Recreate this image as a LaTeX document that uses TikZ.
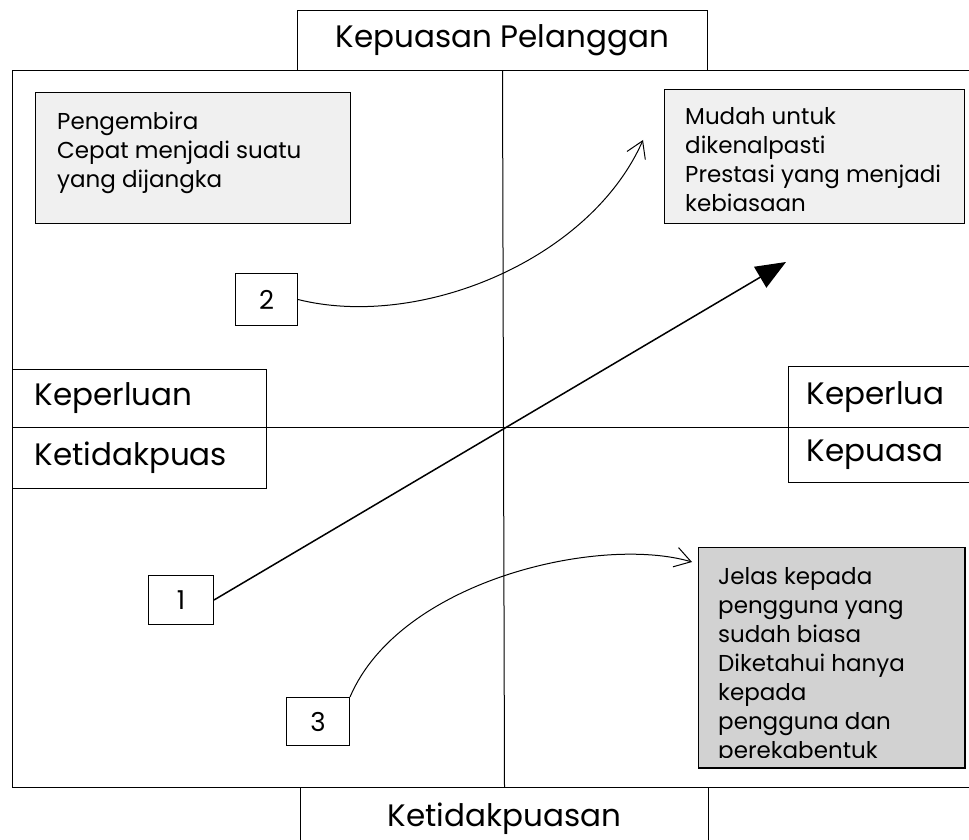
\documentclass[tikz,border=0pt]{standalone}
\usepackage{fontspec}
\setmainfont{Poppins}
\usetikzlibrary{arrows.meta}
\newcommand{\judul}{\fontsize{31}{34}\selectfont}
\newcommand{\isi}{\fontsize{23}{29}\selectfont}
\newcommand{\angka}{\fontsize{26}{30}\selectfont}
\tikzset{
        kotak/.style={draw, line width=1pt, inner sep=0pt, anchor=north west, fill=white},
        sisi/.style={kotak, align=left, font=\judul},
        catatan/.style={kotak, fill=gray!12},
        isian/.style={anchor=north west, inner sep=0pt, align=left, font=\isi},
        nombor/.style={kotak, font=\angka},
        garis/.style={line width=1pt},
        lengkung/.style={line width=1pt, -{Straight Barb[length=16pt,width=20pt]}}
}

\begin{document}
\begin{tikzpicture}[x=1pt,y=-1pt]
        \useasboundingbox (0,0) rectangle (969,840);
        \draw[garis] (990,71) -| (12,787) -- (990,787);
        \node[kotak, minimum width=410, minimum height=60, font=\judul] (puas) at (297,10) {Kepuasan Pelanggan};
        \node[kotak, minimum width=408, minimum height=62, font=\judul] (tidak) at (300,787) {Ketidakpuasan};
        \node[sisi, minimum height=58, text width=210, inner xsep=22] (perlu) at (12,369) {Keperluan};
        \node[sisi, minimum height=61, text width=210, inner xsep=22] (tidakpuas) at (12,427) {Ketidakpuas};
        \node[sisi, minimum height=61, text width=200, inner xsep=18] (perlukanan) at (788,366) {Keperlua};
        \node[sisi, minimum height=55, text width=200, inner xsep=18] (puaskanan) at (788,427) {Kepuasa};
        \draw[garis] (puas.south) -- (tidak.north);
        \draw[garis] (tidakpuas.north west) -- (puaskanan.north east);
        \node[catatan, minimum width=315, minimum height=131] (gembira) at (35,92) {};
        \node[isian] (gembiraisi) at (57,112) {Pengembira\\Cepat menjadi suatu\\yang dijangka};
        \node[catatan, minimum width=300, minimum height=134] (mudah) at (664,89) {};
        \node[isian] (mudahisi) at (685,107) {Mudah untuk\\dikenalpasti\\Prestasi yang menjadi\\kebiasaan};
        \node[kotak, fill=gray!35, minimum width=266, minimum height=220] (jelas) at (698,547) {};
        \coordinate (batas) at (964,757);
        \begin{scope}
                \clip (jelas.north west) rectangle (batas);
                \node[isian] (jelasisi) at (718,567) {Jelas kepada\\pengguna yang\\sudah biasa\\Diketahui hanya\\kepada\\pengguna dan\\perekabentuk};
        \end{scope}
        \draw[line width=1pt] (jelas.north west) rectangle (jelas.south east);
        \node[nombor, minimum width=62, minimum height=52] (dua) at (235,273) {2};
        \node[nombor, minimum width=65, minimum height=49] (satu) at (148,575) {1};
        \node[nombor, minimum width=63, minimum height=48] (tiga) at (286,697) {3};
        \coordinate (ujung) at (786,262);
        \coordinate (ujungdua) at (643,140);
        \coordinate (ujungtiga) at (692,562);
        \draw[line width=1.5pt, -{Triangle[length=30pt,width=24pt]}] (satu.east) -- (ujung);
        \draw[lengkung] (dua.east) .. controls (420,330) and (590,260) .. (ujungdua);
        \draw[lengkung] (tiga.north east) .. controls (400,580) and (600,535) .. (ujungtiga);
\end{tikzpicture}
\end{document}
